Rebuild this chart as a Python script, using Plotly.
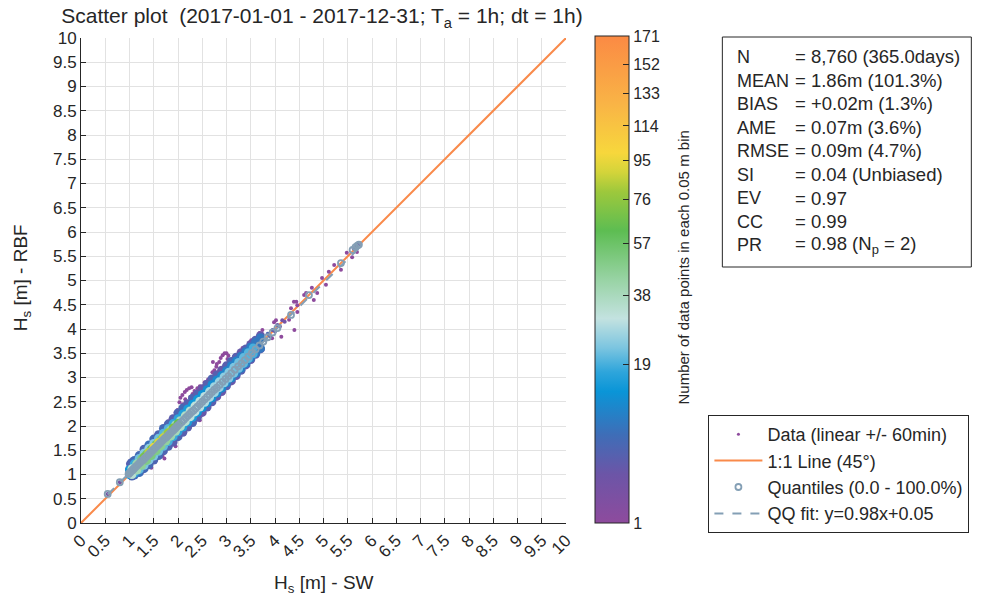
import math
import plotly.graph_objects as go

# ---------------- data ----------------
title_text = "Scatter plot  (2017-01-01 - 2017-12-31; T<sub>a</sub> = 1h; dt = 1h)"
x_title = "H<sub>s</sub> [m] - SW"
y_title = "H<sub>s</sub> [m] - RBF"
cbar_title = "Number of data points in each 0.05 m bin"

axis_ticks = [0, 0.5, 1, 1.5, 2, 2.5, 3, 3.5, 4, 4.5, 5, 5.5, 6, 6.5, 7, 7.5, 8, 8.5, 9, 9.5, 10]
axis_ticktext = ["0", "0.5", "1", "1.5", "2", "2.5", "3", "3.5", "4", "4.5", "5", "5.5",
                 "6", "6.5", "7", "7.5", "8", "8.5", "9", "9.5", "10"]
cbar_ticks = [1, 19, 38, 57, 76, 95, 114, 133, 152, 171]
count_min, count_max = 1, 171

# dense body of the cloud: outer layer (low counts)
outer_up_x = [1.00, 1.02, 1.05, 1.10, 1.20, 1.30, 1.40, 1.50, 1.60, 1.70, 1.80, 1.90, 2.00, 2.10, 2.20, 2.30,
              2.40, 2.50, 2.60, 2.70, 2.80, 2.90, 3.00, 3.10, 3.20, 3.30, 3.40, 3.50, 3.60, 3.70]
outer_up_y = [1.10, 1.22, 1.25, 1.29, 1.39, 1.52, 1.61, 1.73, 1.82, 1.95, 2.04, 2.15, 2.27, 2.37, 2.46, 2.57,
              2.66, 2.77, 2.86, 2.97, 3.05, 3.15, 3.24, 3.33, 3.42, 3.51, 3.59, 3.68, 3.77, 3.86]
outer_up_n = [3, 4, 5, 6, 6, 5, 7, 6, 5, 6, 5, 4, 5, 6, 4, 5, 4, 3, 4, 5, 4, 3, 4, 5, 4, 3, 4, 3, 4, 3]
outer_lo_x = [1.05, 1.10, 1.20, 1.30, 1.40, 1.50, 1.60, 1.70, 1.80, 1.90, 2.00, 2.10, 2.20, 2.30,
              2.40, 2.50, 2.60, 2.70, 2.80, 2.90, 3.00, 3.10, 3.20, 3.30, 3.40, 3.50, 3.60, 3.70]
outer_lo_y = [0.97, 0.99, 1.04, 1.12, 1.20, 1.30, 1.39, 1.49, 1.58, 1.67, 1.78, 1.87, 1.98, 2.07,
              2.18, 2.28, 2.39, 2.50, 2.61, 2.71, 2.83, 2.93, 3.04, 3.15, 3.26, 3.37, 3.48, 3.59]
outer_lo_n = [5, 6, 7, 6, 6, 5, 6, 5, 5, 4, 5, 4, 4, 5, 4, 3, 4, 4, 3, 3, 4, 3, 3, 4, 3, 3, 3, 3]

# middle layer
mid_x = [1.0, 1.1, 1.2, 1.3, 1.4, 1.5, 1.6, 1.7, 1.8, 1.9, 2.0, 2.1, 2.2, 2.3,
         2.4, 2.5, 2.6, 2.7, 2.8, 2.9, 3.0, 3.1, 3.2, 3.3, 3.4, 3.5, 3.6, 3.7]
mid_up_y = [1.10, 1.22, 1.33, 1.44, 1.54, 1.64, 1.75, 1.85, 1.95, 2.05, 2.15, 2.25, 2.35, 2.45,
            2.55, 2.65, 2.75, 2.85, 2.95, 3.04, 3.14, 3.24, 3.34, 3.44, 3.53, 3.63, 3.73, 3.82]
mid_up_n = [14, 18, 22, 24, 25, 24, 22, 20, 20, 18, 17, 16, 15, 14, 14, 13, 12, 12, 11, 11, 10, 10, 10, 9, 9, 9, 8, 8]
mid_lo_y = [1.00, 1.03, 1.10, 1.19, 1.29, 1.38, 1.48, 1.58, 1.68, 1.78, 1.88, 1.98, 2.08, 2.18,
            2.28, 2.38, 2.48, 2.58, 2.68, 2.78, 2.89, 2.99, 3.09, 3.19, 3.29, 3.40, 3.50, 3.60]
mid_lo_n = [14, 17, 21, 23, 24, 23, 22, 21, 19, 18, 17, 16, 15, 15, 14, 13, 12, 12, 11, 11, 10, 10, 9, 9, 9, 8, 8, 8]

# inner layer
inner_x = [1.05, 1.15, 1.25, 1.35, 1.45, 1.55, 1.65, 1.75, 1.85, 1.95, 2.05, 2.15, 2.25,
           2.35, 2.45, 2.55, 2.65, 2.75, 2.85, 2.95, 3.05, 3.15, 3.25, 3.35, 3.45, 3.55]
inner_up_y = [1.12, 1.22, 1.32, 1.42, 1.52, 1.62, 1.72, 1.82, 1.92, 2.02, 2.11, 2.21, 2.31,
              2.41, 2.51, 2.61, 2.71, 2.81, 2.91, 3.01, 3.11, 3.21, 3.31, 3.41, 3.51, 3.61]
inner_up_n = [35, 42, 50, 55, 58, 56, 52, 48, 44, 40, 38, 36, 34, 32, 30, 30, 28, 27, 26, 25, 24, 23, 22, 21, 20, 19]
inner_lo_y = [1.00, 1.09, 1.19, 1.29, 1.39, 1.49, 1.59, 1.69, 1.79, 1.89, 1.99, 2.09, 2.19,
              2.29, 2.39, 2.49, 2.59, 2.69, 2.79, 2.89, 2.99, 3.09, 3.19, 3.29, 3.39, 3.49]
inner_lo_n = [34, 40, 46, 50, 52, 50, 48, 45, 42, 39, 36, 34, 32, 31, 30, 29, 28, 27, 26, 25, 24, 23, 22, 21, 20, 19]

# core (highest density)
core_x = [1.30, 1.40, 1.50, 1.60, 1.70, 1.80, 1.90, 2.00]
core_y = [1.36, 1.46, 1.56, 1.66, 1.76, 1.86, 1.96, 2.05]
core_n = [70, 85, 95, 92, 88, 80, 72, 65]

# sparse points (outliers and tail)
sparse_x = [1.25, 1.45, 1.68, 1.72, 1.95, 1.15, 1.35, 1.55, 2.25, 2.45,
            1.89, 1.99, 2.03, 2.05, 2.09, 2.14, 2.18, 2.23, 2.28, 2.34, 2.40, 2.45, 2.50, 2.59, 2.10, 2.15,
            1.80, 1.85, 1.95, 2.30, 2.55,
            2.62, 2.69, 2.71, 2.75, 2.79, 2.80, 2.85, 2.88, 2.92, 2.96, 3.00, 3.04, 3.02, 2.72,
            2.65, 2.79,
            3.33, 3.51, 3.68, 3.74, 3.98, 4.02, 4.44, 4.46, 4.40, 4.13, 3.94, 3.61, 3.51, 3.37, 3.26,
            4.33, 4.46, 4.60, 4.76, 4.87, 4.80, 4.97, 5.05, 5.11, 5.22, 5.36, 5.48, 5.59, 5.69, 4.64, 4.39, 4.29,
            3.80, 3.85, 3.90, 3.95, 4.00, 4.05, 4.10, 4.15, 4.20,
            5.62, 5.68, 5.72, 0.55, 0.80]
sparse_y = [1.02, 1.14, 1.38, 1.33, 1.58, 1.33, 1.56, 1.82, 2.60, 2.12,
            2.19, 2.33, 2.49, 2.58, 2.64, 2.70, 2.74, 2.78, 2.80, 2.72, 2.78, 2.82, 2.78, 2.80, 2.45, 2.55,
            2.10, 2.15, 2.28, 2.66, 2.90,
            2.96, 3.00, 3.11, 3.15, 3.22, 3.28, 3.32, 3.40, 3.46, 3.50, 3.50, 3.45, 3.38, 3.32,
            2.49, 2.68,
            3.61, 3.77, 3.92, 3.98, 4.14, 4.18, 4.56, 4.35, 3.98, 3.84, 3.81, 3.50, 3.57, 3.26, 3.20,
            4.43, 4.49, 4.70, 4.85, 4.74, 4.60, 5.05, 4.91, 5.18, 5.32, 5.22, 5.57, 5.48, 5.59, 4.74, 4.56, 4.19,
            3.78, 3.90, 3.85, 3.98, 3.95, 4.08, 4.05, 4.18, 4.15,
            5.66, 5.72, 5.75, 0.60, 0.84]
sparse_n = [1, 1, 1, 1, 1, 1, 1, 1, 1, 1,
            1, 1, 1, 1, 1, 1, 1, 1, 1, 1, 1, 1, 1, 1, 1, 1,
            1, 1, 1, 1, 1,
            1, 1, 1, 1, 1, 1, 1, 1, 1, 1, 1, 1, 1, 1,
            1, 1,
            1, 1, 1, 1, 1, 1, 1, 1, 1, 1, 1, 1, 1, 1, 1,
            1, 1, 1, 1, 1, 1, 1, 1, 1, 1, 1, 1, 1, 1, 1, 1, 1,
            6, 5, 4, 4, 3, 3, 2, 2, 2,
            3, 4, 3, 2, 2]

# quantiles (SW vs RBF)
q_sw = [0.55, 0.80, 0.98, 1.00, 1.02, 1.04, 1.06, 1.08, 1.10, 1.13, 1.16, 1.19, 1.22, 1.25, 1.28, 1.31,
        1.34, 1.37, 1.40, 1.43, 1.46, 1.49, 1.52, 1.55, 1.58, 1.61, 1.64, 1.67, 1.70, 1.73, 1.76, 1.79,
        1.82, 1.85, 1.88, 1.91, 1.94, 1.97, 2.00, 2.04, 2.08, 2.12, 2.16, 2.20, 2.24, 2.28, 2.32, 2.36,
        2.40, 2.45, 2.50, 2.55, 2.60, 2.65, 2.70, 2.75, 2.80, 2.86, 2.92, 2.98, 3.04, 3.10, 3.17, 3.24,
        3.31, 3.38, 3.45, 3.52, 3.60, 3.68, 3.76, 3.85, 3.95, 4.05, 4.33, 4.70, 5.36, 5.60, 5.66, 5.70, 5.73]
q_rbf = [0.60, 0.84, 1.01, 1.03, 1.05, 1.07, 1.09, 1.11, 1.13, 1.16, 1.19, 1.22, 1.25, 1.28, 1.30, 1.33,
         1.36, 1.39, 1.42, 1.45, 1.48, 1.51, 1.54, 1.57, 1.60, 1.63, 1.66, 1.69, 1.72, 1.75, 1.77, 1.80,
         1.83, 1.86, 1.89, 1.92, 1.95, 1.98, 2.01, 2.05, 2.09, 2.13, 2.17, 2.21, 2.25, 2.29, 2.32, 2.36,
         2.40, 2.45, 2.50, 2.55, 2.60, 2.65, 2.70, 2.75, 2.79, 2.85, 2.91, 2.97, 3.03, 3.09, 3.16, 3.23,
         3.29, 3.36, 3.43, 3.50, 3.58, 3.66, 3.74, 3.83, 3.93, 4.02, 4.29, 4.70, 5.36, 5.63, 5.69, 5.72, 5.74]

one_to_one = [0, 10]
qq_slope, qq_intercept = 0.98, 0.05

stat_labels = ["N", "MEAN", "BIAS", "AME", "RMSE", "SI", "EV", "CC", "PR"]
stat_values = ["= 8,760 (365.0days)", "= 1.86m (101.3%)", "= +0.02m (1.3%)", "= 0.07m (3.6%)",
               "= 0.09m (4.7%)", "= 0.04 (Unbiased)", "= 0.97", "= 0.99", "= 0.98 (N<sub>p</sub> = 2)"]

legend_names = ["Data (linear +/- 60min)", "1:1 Line (45\u00b0)", "Quantiles (0.0 - 100.0%)",
                "QQ fit: y=0.98x+0.05"]

# ---------------- layout helpers ----------------
W_FIG, H_FIG = 981, 601
L, R, T, B = 81, 568, 38, 523
PW, PH = R - L, B - T


def px2x(px):
    return (px - L) / PW


def px2y(py):
    return (B - py) / PH


def cnorm(n):
    return math.sqrt((n - count_min) / (count_max - count_min))


FONT = "Liberation Sans, Arial, sans-serif"
TXT = "#262626"
colorscale = [[0.0, "#8e4b9d"], [0.1, "#6c55a7"], [0.18, "#3f6db7"], [0.27, "#0a95d7"],
              [0.31, "#2ea5db"], [0.36, "#7cc5e0"], [0.42, "#c3e2e0"], [0.5, "#98d3a4"],
              [0.6, "#5dbd52"], [0.68, "#9dc83c"], [0.72, "#d3d43a"], [0.76, "#f7d73c"],
              [0.86, "#f9b446"], [1.0, "#fb8a44"]]
QCOL = "#849fb5"
ORANGE = "#f98a4a"

body_x = outer_up_x + outer_lo_x + mid_x + mid_x + inner_x + inner_x + core_x
body_y = outer_up_y + outer_lo_y + mid_up_y + mid_lo_y + inner_up_y + inner_lo_y + core_y
body_n = outer_up_n + outer_lo_n + mid_up_n + mid_lo_n + inner_up_n + inner_lo_n + core_n

fig = go.Figure()

# 1:1 line
fig.add_trace(go.Scatter(x=one_to_one, y=one_to_one, mode="lines", name=legend_names[1],
                         line=dict(color=ORANGE, width=2), legendrank=2))

# sparse data
fig.add_trace(go.Scatter(x=sparse_x, y=sparse_y, mode="markers", showlegend=False,
                         marker=dict(size=4, color=[cnorm(v) for v in sparse_n], colorscale=colorscale,
                                     cmin=0, cmax=1)))

# dense data with colorbar
fig.add_trace(go.Scatter(
    x=body_x, y=body_y, mode="markers", showlegend=False,
    marker=dict(size=9, color=[cnorm(v) for v in body_n], colorscale=colorscale, cmin=0, cmax=1,
                showscale=True,
                colorbar=dict(
                    x=px2x(597), xanchor="left", xref="paper",
                    y=px2y((36 + 523) / 2), yanchor="middle", yref="paper",
                    len=(523 - 36) / PH, lenmode="fraction", thickness=34, thicknessmode="pixels",
                    outlinecolor=TXT, outlinewidth=1, ticks="inside", ticklen=6, tickcolor=TXT,
                    tickvals=[cnorm(v) for v in cbar_ticks], ticktext=[str(v) for v in cbar_ticks],
                    tickfont=dict(family=FONT, size=16, color=TXT), xpad=0, ypad=0,
                ))))

# legend proxy for data
fig.add_trace(go.Scatter(x=[None], y=[None], mode="markers", name=legend_names[0],
                         marker=dict(size=3, color="#8e4b9d"), legendrank=1))

# quantiles
fig.add_trace(go.Scatter(x=q_sw, y=q_rbf, mode="markers", name=legend_names[2], legendrank=3,
                         marker=dict(symbol="circle-open", size=6, color=QCOL, line=dict(width=1.8))))

# QQ fit
qx = [min(q_sw), max(q_sw)]
fig.add_trace(go.Scatter(x=qx, y=[qq_slope * v + qq_intercept for v in qx], mode="lines",
                         name=legend_names[3], legendrank=4,
                         line=dict(color=QCOL, width=2, dash="dash")))

axis_common = dict(range=[0, 10], tickvals=axis_ticks, ticktext=axis_ticktext, showgrid=True,
                   gridcolor="#e2e2e2", gridwidth=1, zeroline=False, showline=True, linecolor=TXT,
                   linewidth=1, ticks="inside", ticklen=5, tickcolor=TXT, automargin=False,
                   tickfont=dict(family=FONT, size=17, color=TXT), mirror=False)

fig.update_layout(
    width=W_FIG, height=H_FIG,
    margin=dict(l=L, r=W_FIG - R, t=T, b=H_FIG - B, pad=0),
    paper_bgcolor="white", plot_bgcolor="white",
    font=dict(family=FONT, color=TXT),
    title=dict(text=title_text, x=px2x(323), xref="paper", xanchor="center",
               y=1 - 16 / H_FIG, yref="container", yanchor="middle",
               font=dict(family=FONT, size=21, color=TXT)),
    xaxis=dict(**axis_common, tickangle=-45),
    yaxis=dict(**axis_common),
    legend=dict(x=px2x(711), y=px2y(415), xanchor="left", yanchor="top", xref="paper", yref="paper",
                bordercolor=TXT, borderwidth=1, bgcolor="white",
                font=dict(family=FONT, size=18, color=TXT), itemwidth=48, tracegroupgap=0),
)

# axis titles and colorbar title
fig.add_annotation(text=x_title, x=px2x(324.5), y=px2y(584), xref="paper", yref="paper",
                   xanchor="center", yanchor="middle", showarrow=False,
                   font=dict(family=FONT, size=19, color=TXT))
fig.add_annotation(text=y_title, x=px2x(22), y=px2y(278), xref="paper", yref="paper",
                   xanchor="center", yanchor="middle", showarrow=False, textangle=-90,
                   font=dict(family=FONT, size=19, color=TXT))
fig.add_annotation(text=cbar_title, x=px2x(685), y=px2y(268), xref="paper", yref="paper",
                   xanchor="center", yanchor="middle", showarrow=False, textangle=-90,
                   font=dict(family=FONT, size=15, color=TXT))

# statistics box
fig.add_shape(type="rect", xref="paper", yref="paper", x0=px2x(725), x1=px2x(975),
              y0=px2y(267), y1=px2y(37), line=dict(color=TXT, width=1), fillcolor="white", layer="above")
for i, (lab, val) in enumerate(zip(stat_labels, stat_values)):
    ypix = 57 + i * 23.5
    fig.add_annotation(text=lab, x=px2x(738), y=px2y(ypix), xref="paper", yref="paper",
                       xanchor="left", yanchor="middle", showarrow=False,
                       font=dict(family=FONT, size=18, color=TXT))
    fig.add_annotation(text=val, x=px2x(796), y=px2y(ypix), xref="paper", yref="paper",
                       xanchor="left", yanchor="middle", showarrow=False,
                       font=dict(family=FONT, size=18.5, color=TXT))

fig.write_html("out.html")
